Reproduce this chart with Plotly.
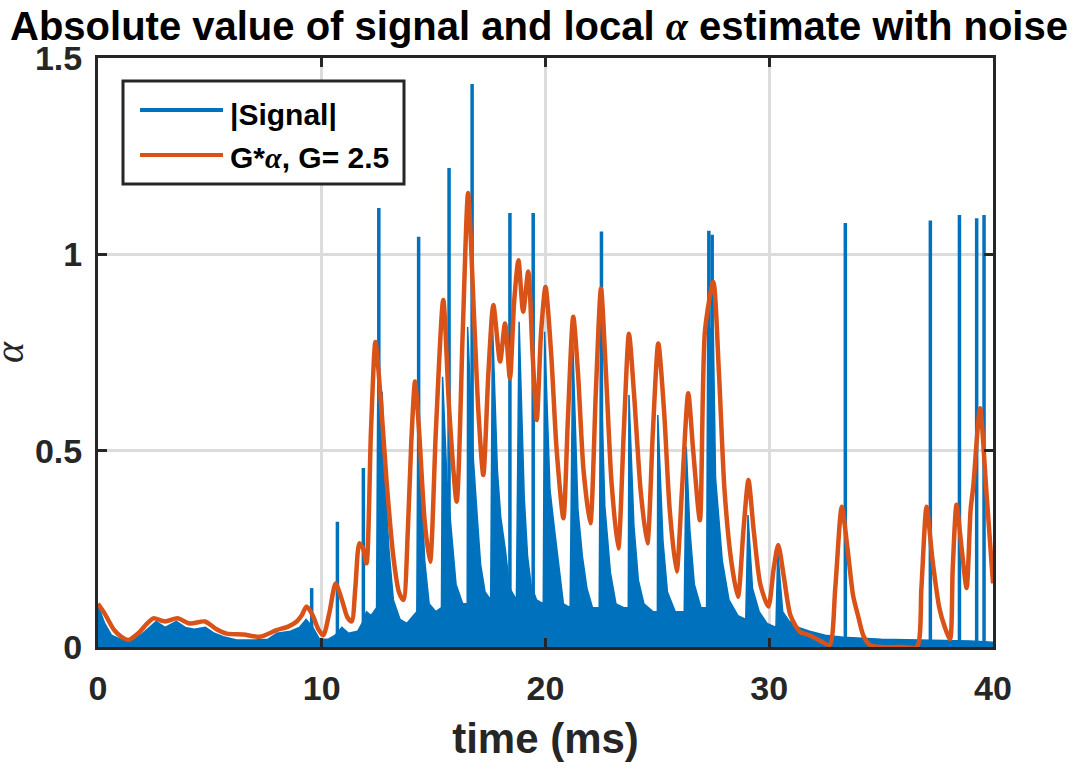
import plotly.graph_objects as go

# ---------------- data ----------------
# |Signal| body (envelope of dense oscillation), time in ms
sig_t = [0.0, 0.1, 0.3, 0.6, 1.0, 1.5, 1.9, 2.2, 2.6, 3.0, 3.5, 3.9, 4.3, 4.8, 5.2, 5.6, 6.2, 7.0, 7.6, 8.0,
         8.6, 9.0, 9.3, 9.6, 9.9, 10.3, 10.6, 10.9, 11.2, 11.6, 11.8, 12.0, 12.2, 12.45,
         12.5, 12.7, 12.85, 13.0, 13.2, 13.5, 13.8, 14.1, 14.25,
         14.3, 14.45, 14.6, 14.8, 15.1, 15.35,
         15.4, 15.6, 15.8, 16.0, 16.3, 16.5,
         16.52, 16.75, 16.95, 17.1, 17.3, 17.55,
         17.63, 17.85, 18.0, 18.2, 18.4, 18.7,
         18.82, 19.05, 19.2, 19.35, 19.6, 19.9,
         19.96, 20.2, 20.4, 20.6, 20.8, 21.1,
         21.22, 21.45, 21.65, 21.85, 22.1, 22.4,
         22.46, 22.65, 22.9, 23.15, 23.5, 23.7,
         23.73, 23.95, 24.15, 24.4, 24.8, 25.0,
         25.02, 25.25, 25.45, 25.8, 26.2,
         26.29, 26.45, 26.65, 26.95, 27.2,
         27.25, 27.5, 27.6, 27.9, 28.2, 28.6, 28.95,
         29.05, 29.25, 29.55, 29.9, 30.3,
         30.38, 30.6, 30.9, 31.3, 31.8, 32.5, 33.3, 35.0, 37.0, 39.0, 40.0]
sig_v = [0.10, 0.09, 0.06, 0.03, 0.02, 0.02, 0.03, 0.045, 0.065, 0.05, 0.065, 0.05, 0.045, 0.05, 0.035, 0.026, 0.018, 0.018, 0.02, 0.035,
         0.04, 0.05, 0.07, 0.05, 0.02, 0.02, 0.03, 0.05, 0.035, 0.04, 0.06, 0.09, 0.08, 0.10,
         0.62, 0.65, 0.40, 0.25, 0.12, 0.07, 0.06, 0.08, 0.09,
         0.596, 0.42, 0.22, 0.11, 0.09, 0.10,
         0.688, 0.42, 0.28, 0.16, 0.11, 0.11,
         0.815, 0.50, 0.33, 0.21, 0.14, 0.12,
         0.825, 0.45, 0.33, 0.25, 0.15, 0.12,
         0.828, 0.38, 0.23, 0.16, 0.12, 0.11,
         0.803, 0.40, 0.30, 0.20, 0.11, 0.10,
         0.773, 0.35, 0.23, 0.15, 0.10, 0.10,
         0.73, 0.36, 0.19, 0.11, 0.10, 0.10,
         0.642, 0.31, 0.17, 0.11, 0.09, 0.09,
         0.591, 0.27, 0.14, 0.09, 0.09,
         0.51, 0.30, 0.16, 0.10, 0.10,
         0.82, 0.80, 0.43, 0.22, 0.12, 0.08, 0.07,
         0.336, 0.15, 0.09, 0.06, 0.05,
         0.243, 0.09, 0.065, 0.05, 0.04, 0.03, 0.025, 0.02, 0.018, 0.015, 0.012]

# isolated single-sample spikes of |Signal|
spike_t = [9.55, 10.7, 11.86, 12.55, 14.33, 15.69, 16.72, 18.41, 19.45, 22.5, 27.3, 27.45, 33.4, 37.2, 38.5, 39.27, 39.6]
spike_h = [0.15, 0.319, 0.456, 1.118, 1.045, 1.22, 1.434, 1.105, 1.105, 1.058, 1.06, 1.05, 1.08, 1.086, 1.10, 1.092, 1.10]

# G*alpha estimate
alpha_t = [0.0, 0.3, 0.7, 1.0, 1.36, 1.8, 2.2, 2.47, 3.0, 3.55, 4.1, 4.78, 5.3, 5.75, 6.5, 7.24, 7.98, 8.5, 8.88, 9.1,
           9.32, 9.6, 9.85, 10.07, 10.35, 10.62, 10.9, 11.15, 11.34, 11.5, 11.68, 11.85, 12.0, 12.2, 12.4, 12.65,
           12.9, 13.2, 13.45, 13.65, 13.85, 14.0, 14.17, 14.35, 14.6, 14.84, 15.1, 15.43, 15.7, 16.03, 16.3, 16.54,
           16.8, 17.0, 17.22, 17.45, 17.67, 17.97, 18.19, 18.41, 18.6, 18.79, 19.0, 19.23, 19.42, 19.61, 19.8, 20.0,
           20.25, 20.5, 20.8, 21.0, 21.24, 21.45, 21.7, 22.0, 22.25, 22.48, 22.7, 22.95, 23.25, 23.5, 23.73, 23.95,
           24.25, 24.55, 24.8, 25.04, 25.3, 25.55, 25.86, 26.1, 26.38, 26.6, 26.9, 27.13, 27.5, 27.75, 28.0, 28.3,
           28.6, 28.85, 29.07, 29.3, 29.6, 29.96, 30.2, 30.4, 30.65, 30.95, 31.37, 31.8, 32.3, 32.7, 32.95, 33.24,
           33.5, 33.75, 33.98, 34.2, 34.5, 35.0, 36.0, 36.6, 36.8, 37.03, 37.3, 37.6, 37.85, 38.08, 38.2, 38.37,
           38.6, 38.82, 39.0, 39.12, 39.42, 39.7, 40.0]
alpha_v = [0.11, 0.085, 0.045, 0.028, 0.018, 0.035, 0.06, 0.073, 0.065, 0.073, 0.06, 0.065, 0.045, 0.034, 0.032, 0.026, 0.043, 0.052, 0.065, 0.08,
           0.103, 0.08, 0.045, 0.03, 0.09, 0.162, 0.12, 0.075, 0.065, 0.15, 0.264, 0.25, 0.213, 0.55, 0.777, 0.62,
           0.42, 0.23, 0.14, 0.12, 0.30, 0.52, 0.676, 0.55, 0.32, 0.217, 0.55, 0.884, 0.60, 0.37, 0.80, 1.156,
           0.85, 0.60, 0.438, 0.70, 0.871, 0.727, 0.824, 0.684, 0.88, 0.985, 0.854, 0.956, 0.75, 0.578, 0.80, 0.917,
           0.75, 0.50, 0.328, 0.58, 0.841, 0.70, 0.45, 0.315, 0.65, 0.913, 0.70, 0.42, 0.251, 0.55, 0.798, 0.65,
           0.40, 0.264, 0.55, 0.773, 0.60, 0.35, 0.192, 0.40, 0.646, 0.50, 0.323, 0.807, 0.93, 0.70, 0.40, 0.22,
           0.128, 0.30, 0.425, 0.30, 0.16, 0.103, 0.20, 0.26, 0.18, 0.08, 0.039, 0.03, 0.015, 0.005, 0.15, 0.357,
           0.25, 0.13, 0.077, 0.03, 0.005, 0.0, 0.0, 0.0, 0.15, 0.357, 0.22, 0.10, 0.05, 0.02, 0.20, 0.362,
           0.25, 0.15, 0.35, 0.41, 0.608, 0.40, 0.162]

x_ticks = [0, 10, 20, 30, 40]
y_ticks = [0, 0.5, 1, 1.5]
y_tick_text = ["0", "0.5", "1", "1.5"]

# ---------------- styling ----------------
BLUE = "#0072BD"
ORANGE = "#D95319"
AX = "#262626"
FONT = "Liberation Sans"
SERIF = "Liberation Serif"

fig = go.Figure()

fig.add_trace(go.Scatter(x=sig_t, y=sig_v, mode="lines", fill="tozeroy",
                         line=dict(color=BLUE, width=1.5), fillcolor=BLUE,
                         name="|Signal|", showlegend=False, hoverinfo="skip"))

sx, sy = [], []
for t, h in zip(spike_t, spike_h):
    sx += [t, t, None]
    sy += [0, h, None]
fig.add_trace(go.Scatter(x=sx, y=sy, mode="lines", line=dict(color=BLUE, width=3.5),
                         showlegend=False, hoverinfo="skip"))

fig.add_trace(go.Scatter(x=alpha_t, y=alpha_v, mode="lines",
                         line=dict(color=ORANGE, width=4.5, shape="spline", smoothing=0.7),
                         name="G*α, G= 2.5", showlegend=False))

axis_common = dict(showline=True, linewidth=3, linecolor=AX, mirror="ticks",
                   ticks="inside", ticklen=9, tickwidth=2.5, tickcolor=AX,
                   showgrid=True, gridcolor="#dcdcdc", gridwidth=2.5, zeroline=False,
                   tickfont=dict(family=FONT, size=34, color=AX, weight="bold"))

fig.update_xaxes(range=[0, 40], tickvals=x_ticks, ticktext=[str(v) for v in x_ticks],
                 ticklabelstandoff=9,
                 title=dict(text="time (ms)", font=dict(family=FONT, size=42, color=AX, weight="bold"),
                            standoff=18),
                 **axis_common)
fig.update_yaxes(range=[0, 1.5], tickvals=y_ticks, ticktext=y_tick_text, ticklabelstandoff=6,
                 **axis_common)

# title
fig.update_layout(
    title=dict(text="Absolute value of signal and local <span style=\"font-family:'Liberation Serif'\"><i>α</i></span> estimate with noise",
               font=dict(family=FONT, size=40, color="#000000", weight="bold"),
               x=(539 - 98) / 895, xref="paper", xanchor="center",
               y=1 - 26 / 769, yref="container", yanchor="middle"),
    width=1087, height=769,
    margin=dict(l=98, r=94, t=58, b=122),
    paper_bgcolor="white", plot_bgcolor="white",
    showlegend=False,
)

# y-axis label (alpha), rotated
fig.add_annotation(text="<i>α</i>", xref="paper", yref="paper",
                   x=(9 - 98) / 895, y=(647 - 352) / 589, xanchor="center", yanchor="middle",
                   textangle=-90, showarrow=False,
                   font=dict(family=SERIF, size=40, color=AX))

# manual legend (MATLAB style box)
def px_x(p):
    return (p - 98) / 895

def px_y(p):
    return (647 - p) / 589

fig.add_shape(type="rect", xref="paper", yref="paper",
              x0=px_x(123), x1=px_x(404), y0=px_y(184), y1=px_y(81),
              line=dict(color=AX, width=3), fillcolor="white", layer="above")
fig.add_shape(type="line", xref="paper", yref="paper",
              x0=px_x(140), x1=px_x(223), y0=px_y(110), y1=px_y(110),
              line=dict(color=BLUE, width=4), layer="above")
fig.add_shape(type="line", xref="paper", yref="paper",
              x0=px_x(140), x1=px_x(223), y0=px_y(155), y1=px_y(155),
              line=dict(color=ORANGE, width=4), layer="above")
fig.add_annotation(text="|Signal|", xref="paper", yref="paper",
                   x=px_x(228), y=px_y(114), xanchor="left", yanchor="middle", showarrow=False,
                   font=dict(family=FONT, size=30, color="#000000", weight="bold"))
fig.add_annotation(text="G*<span style=\"font-family:'Liberation Serif'\"><i>α</i></span>, G= 2.5",
                   xref="paper", yref="paper",
                   x=px_x(228), y=px_y(157), xanchor="left", yanchor="middle", showarrow=False,
                   font=dict(family=FONT, size=30, color="#000000", weight="bold"))

fig.write_html("out.html", config={"displayModeBar": False},
               post_script="document.body.style.margin='0px';")
